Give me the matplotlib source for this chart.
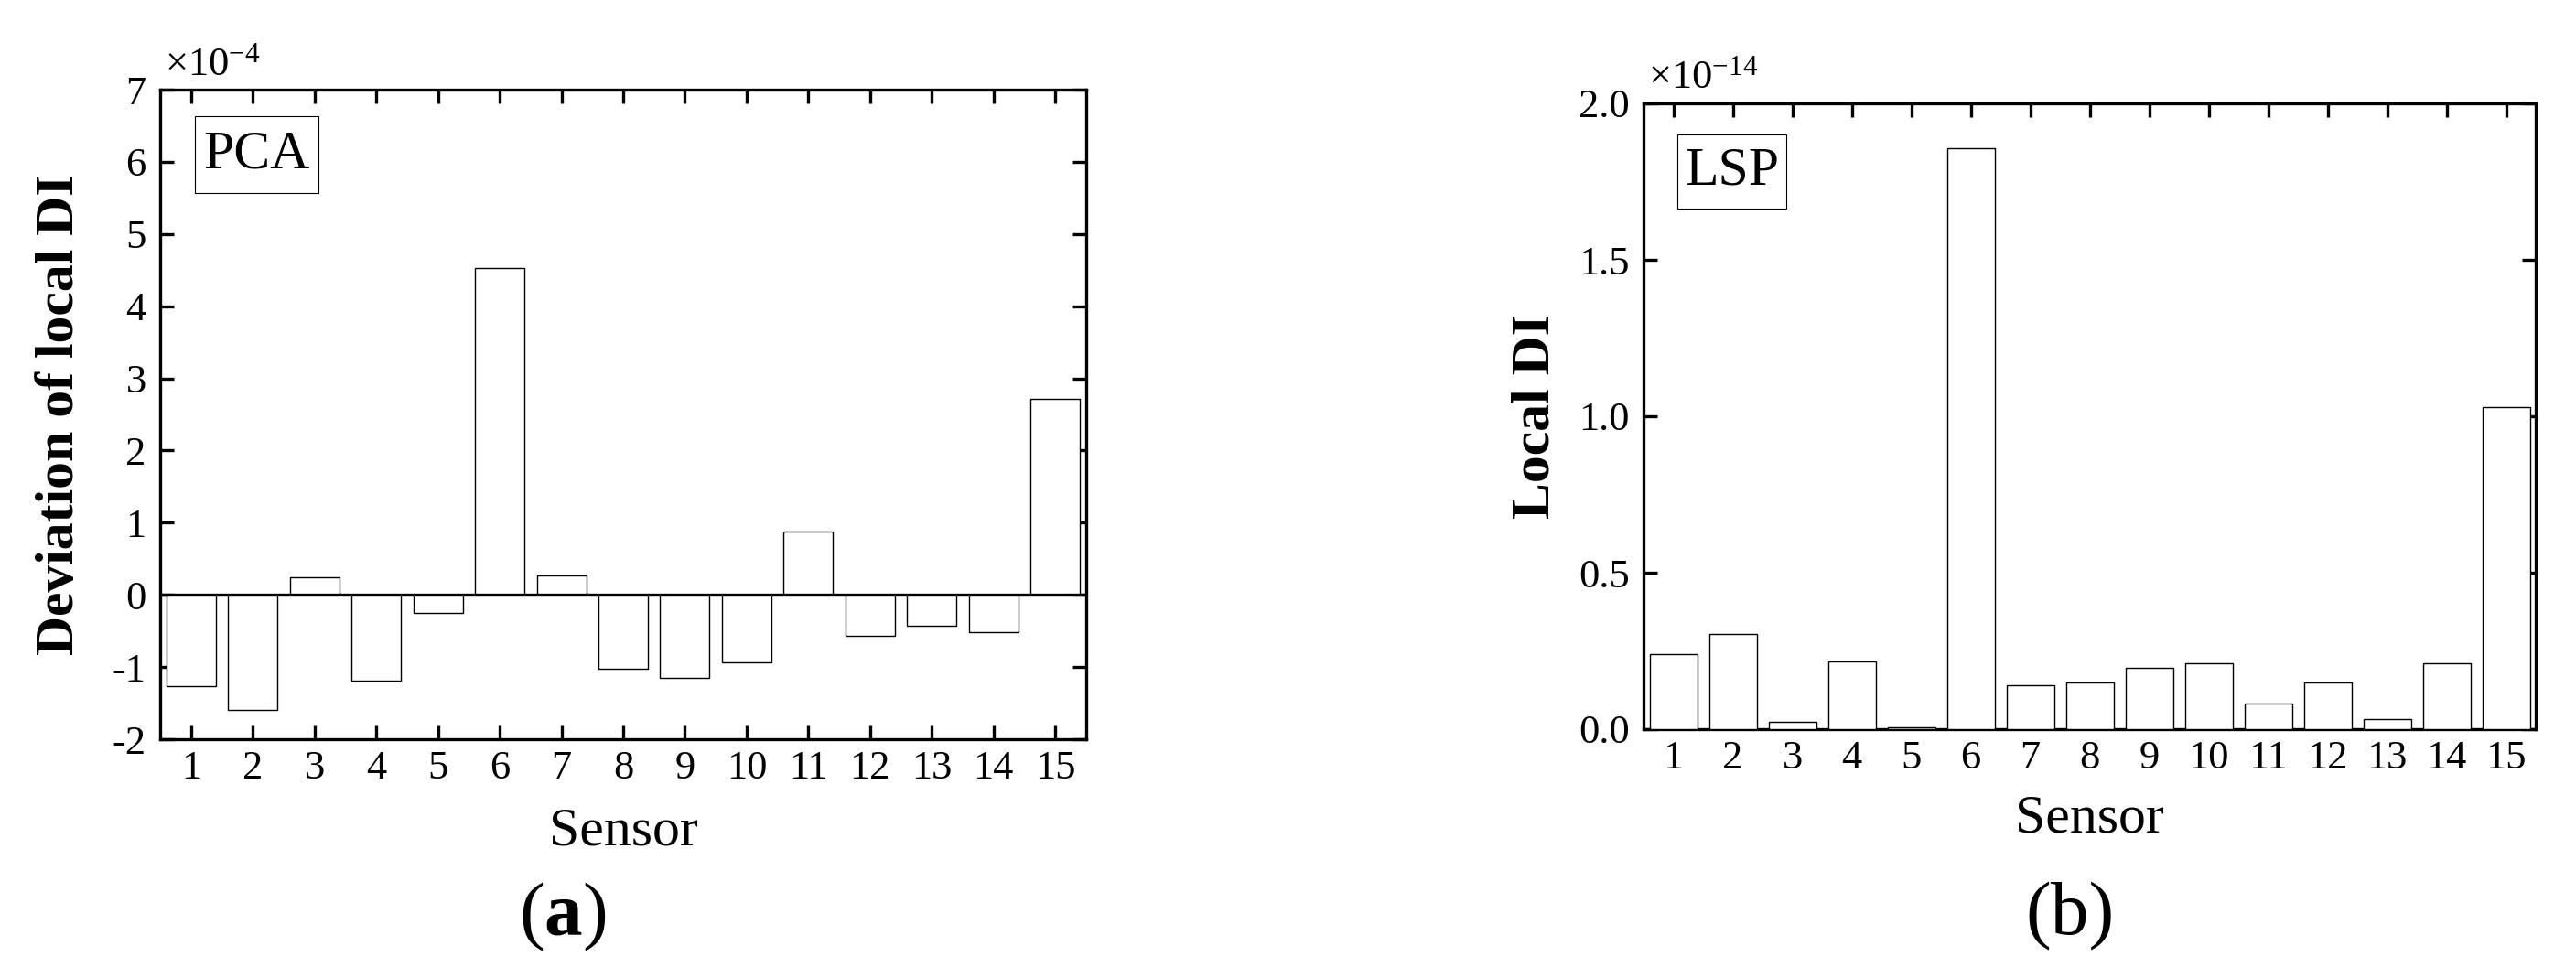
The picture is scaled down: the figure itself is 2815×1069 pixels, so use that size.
import matplotlib
matplotlib.use("Agg")
import matplotlib.pyplot as plt
from matplotlib.patches import Rectangle

plt.rcParams['font.family'] = ['Liberation Serif', 'DejaVu Serif']
plt.rcParams['mathtext.fontset'] = 'custom'
plt.rcParams['mathtext.rm'] = 'Liberation Serif'
plt.rcParams['mathtext.bf'] = 'Liberation Serif:bold'
plt.rcParams['mathtext.it'] = 'Liberation Serif:italic'
plt.rcParams['axes.unicode_minus'] = False

# ---- data ----
sensors = list(range(1, 15 + 1))
sensor_labels = [str(s) for s in sensors]
# (a) PCA: deviation of local DI, units of 1e-4
pca_dev = [-1.26, -1.60, 0.25, -1.19, -0.25, 4.53, 0.27, -1.03, -1.15, -0.93,
           0.88, -0.57, -0.43, -0.52, 2.71]
pca_yticks = [-2, -1, 0, 1, 2, 3, 4, 5, 6, 7]
# (b) LSP: local DI, units of 1e-14
lsp_di = [0.241, 0.305, 0.022, 0.217, 0.006, 1.857, 0.141, 0.148, 0.197, 0.211,
          0.083, 0.148, 0.033, 0.211, 1.029]
lsp_yticks = [0.0, 0.5, 1.0, 1.5, 2.0]

W, H = 2815, 1069
fig = plt.figure(figsize=(W / 100, H / 100), dpi=100)

SPINE_LW = 2.4
TICK_FS = 32
LABEL_FS = 43


def style_axes(ax):
    for s in ax.spines.values():
        s.set_linewidth(SPINE_LW)
    ax.tick_params(axis='both', which='major', direction='in', length=10.5,
                   width=SPINE_LW, labelsize=TICK_FS, top=True, right=True)
    ax.tick_params(axis='x', pad=8.5)
    ax.tick_params(axis='y', pad=11)
    ax.set_xticks(sensors)
    ax.set_xticklabels(sensor_labels)
    ax.set_xlim(0.5, 15.5)


def px_axes(x0, y0, x1, y1):
    return fig.add_axes([x0 / W, 1 - y1 / H, (x1 - x0) / W, (y1 - y0) / H])


# ---- panel (a) ----
ax1 = px_axes(175, 98, 1187, 808)
ax1.bar(sensors, pca_dev, width=0.8, color='white', edgecolor='black', linewidth=1.0, zorder=2)
ax1.axhline(0, color='black', linewidth=SPINE_LW, zorder=3)
style_axes(ax1)
ax1.set_ylim(-2, 7)
ax1.set_yticks(pca_yticks)
ax1.set_yticklabels([str(v) for v in pca_yticks])
ax1.set_ylabel('Deviation of local DI', fontsize=LABEL_FS, fontweight='bold')
ax1.yaxis.set_label_coords(-0.081, 0.5)
ax1.set_xlabel('Sensor', fontsize=LABEL_FS)
ax1.xaxis.set_label_coords(0.5, -0.105)
ax1.text(0.005, 1.022, r'×10$^{\mathregular{-4}}$', transform=ax1.transAxes,
         fontsize=TICK_FS, ha='left', va='baseline')
ax1.add_patch(Rectangle(((212.7 - 175) / 1012, 1 - (211 - 98) / 710),
                        135.6 / 1012, 84 / 710, transform=ax1.transAxes,
                        fill=False, edgecolor='black', linewidth=0.8, zorder=4))
ax1.text((212.7 + 67.8 - 175) / 1012, 1 - (169 - 98) / 710, 'PCA', transform=ax1.transAxes,
         fontsize=43, ha='center', va='center', zorder=5)

# ---- panel (b) ----
ax2 = px_axes(1796, 113, 2771, 797)
ax2.bar(sensors, lsp_di, width=0.8, color='white', edgecolor='black', linewidth=1.0, zorder=3)
style_axes(ax2)
ax2.tick_params(axis='x', bottom=False, labelbottom=True)
ax2.set_ylim(0, 2.0)
ax2.set_yticks(lsp_yticks)
ax2.set_yticklabels([f'{v:.1f}' for v in lsp_yticks])
ax2.set_ylabel('Local DI', fontsize=LABEL_FS, fontweight='bold')
ax2.yaxis.set_label_coords(-0.093, 0.5)
ax2.set_xlabel('Sensor', fontsize=LABEL_FS)
ax2.xaxis.set_label_coords(0.5, -0.105)
ax2.text(0.005, 1.024, r'×10$^{\mathregular{-14}}$', transform=ax2.transAxes,
         fontsize=TICK_FS, ha='left', va='baseline')
ax2.add_patch(Rectangle(((1833 - 1796) / 975, 1 - (228 - 113) / 684),
                        119 / 975, 81 / 684, transform=ax2.transAxes,
                        fill=False, edgecolor='black', linewidth=0.8, zorder=4))
ax2.text((1892.5 - 1796) / 975, 1 - (188 - 113) / 684, 'LSP', transform=ax2.transAxes,
         fontsize=43, ha='center', va='center', zorder=5)

# ---- sub-figure captions ----
fig.text(615 / W, 1 - 1002 / H, r'($\mathbf{a}$)', fontsize=60, ha='center', va='center')
fig.text(2262 / W, 1 - 1002 / H, '(b)', fontsize=60, ha='center', va='center')

fig.savefig('out.png', dpi=100)
